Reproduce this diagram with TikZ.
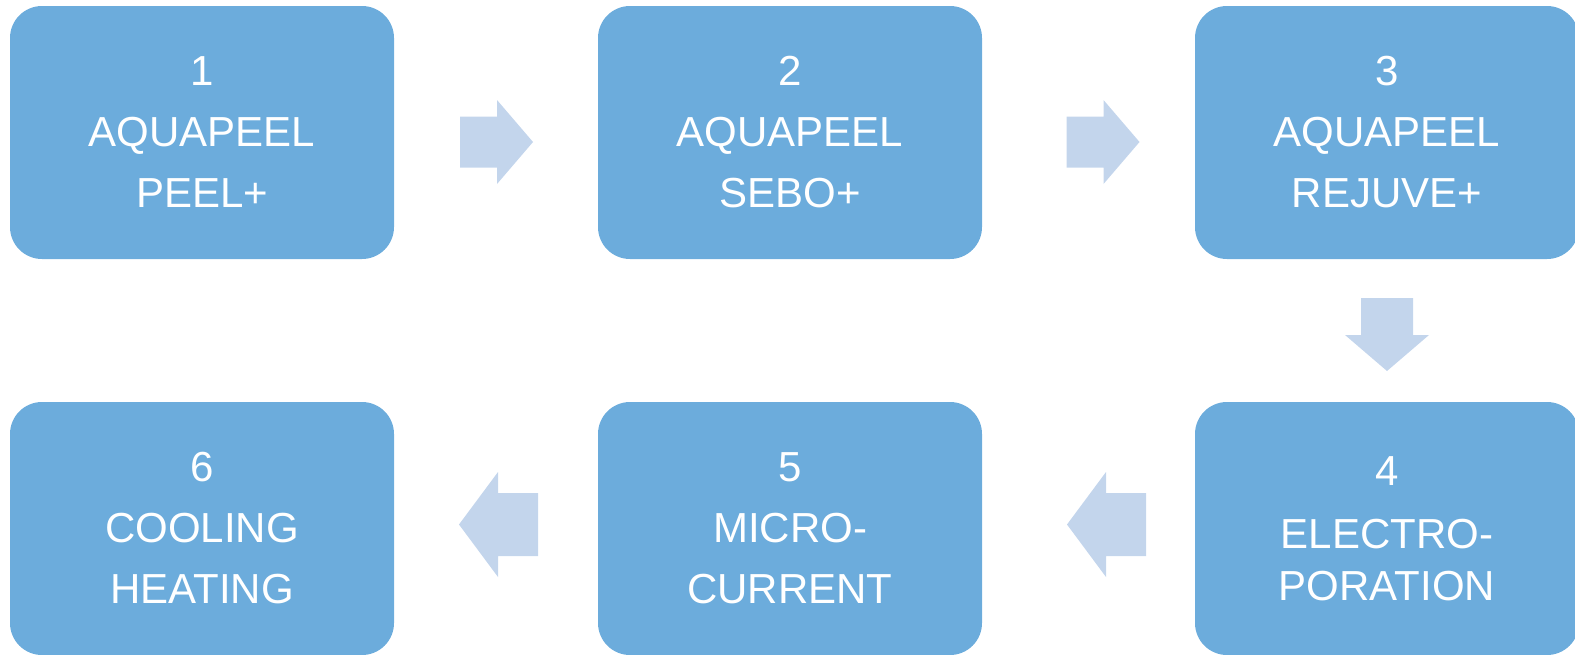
\documentclass[tikz,border=0pt]{standalone}
\usepackage{fontspec}
\setmainfont{Liberation Sans}
\usepackage{xcolor}
\usetikzlibrary{positioning,calc}

\definecolor{boxblue}{HTML}{6CACDC}
\definecolor{arrowblue}{HTML}{C3D5EC}

\tikzset{
	stepbox/.style={rectangle, rounded corners=32pt, fill=boxblue, text=white,
			minimum width=384pt, minimum height=253pt, inner sep=0pt, outer sep=0pt,
			align=center, font=\fontsize{42}{61}\selectfont},
	% block arrow pointing to +x: length, shaft, head width, head length
	pics/flowarrow/.style n args={4}{code={
				\fill[arrowblue] (-#1/2,-#2/2) -- (#1/2-#4,-#2/2) -- (#1/2-#4,-#3/2) -- (#1/2,0)
				-- (#1/2-#4,#3/2) -- (#1/2-#4,#2/2) -- (-#1/2,#2/2) -- cycle;
			}},
}

\begin{document}
\begin{tikzpicture}[x=1pt, y=-1pt]
	\useasboundingbox (0,0) rectangle (1575,654);
	\clip (0,0) rectangle (1575,654);

	\node [stepbox] (b1) at (202,132.5) {1\\AQUAPEEL\\PEEL+};
	\node [stepbox, right=204pt of b1] (b2) {2\\AQUAPEEL\\SEBO+};
	\node [stepbox, right=213pt of b2] (b3) {3\\AQUAPEEL\\REJUVE+};
	\node [stepbox, below=143pt of b3] (b4) {4\\[2pt]ELECTRO-\\[-9pt]PORATION};
	\node [stepbox, left=213pt of b4] (b5) {5\\MICRO-\\CURRENT};
	\node [stepbox, left=204pt of b5] (b6) {6\\COOLING\\HEATING};

	\path ($(b1.east)!.5!(b2.west)$) ++(0.5,9.5) pic {flowarrow={73}{51}{84}{36}};
	\path ($(b2.east)!.5!(b3.west)$) ++(14.5,9.5) pic {flowarrow={73}{51}{84}{36}};
	\path ($(b3.south)!.5!(b4.north)$) ++(0,4) pic [rotate=-90] {flowarrow={73}{52}{84}{36}};
	\path ($(b4.west)!.5!(b5.east)$) ++(18,-4) pic [rotate=180] {flowarrow={79}{63}{105}{39}};
	\path ($(b5.west)!.5!(b6.east)$) ++(2.5,-4) pic [rotate=180] {flowarrow={79}{63}{105}{39}};
\end{tikzpicture}
\end{document}
